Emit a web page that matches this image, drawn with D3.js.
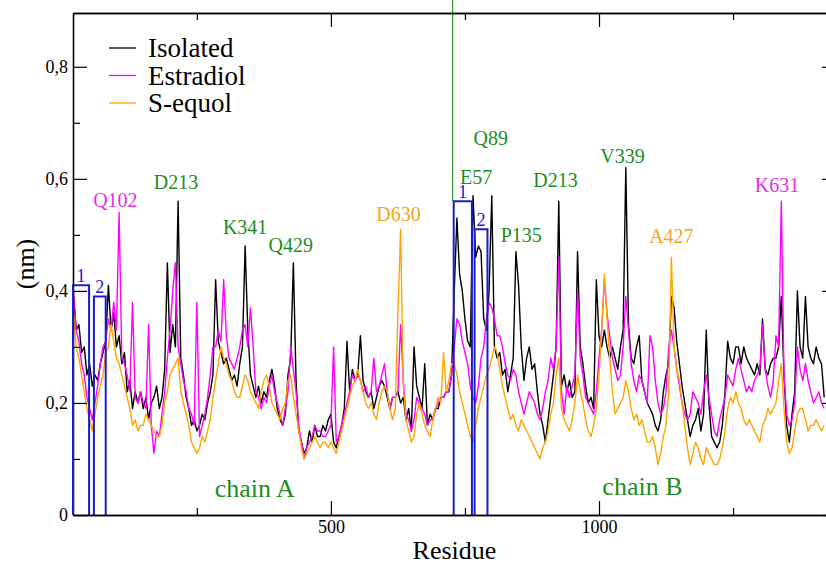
<!DOCTYPE html>
<html>
<head>
<meta charset="utf-8">
<script src="https://cdn.jsdelivr.net/npm/d3@7"></script>
<style>
  html, body { margin: 0; padding: 0; background: #fff; }
  svg { display: block; }
  svg text { font-family: "Liberation Serif", "Times New Roman", "DejaVu Serif", serif; }
</style>
</head>
<body>
<div id="chart"></div>
<script>
// Residue index grid: values are sampled every 5 residues along both chains
var residueStart = 20;
var residueStep = 5;

// Isolated (black) - chain A, residues 20..725
var isolatedA = [
  0.39, 0.33, 0.34, 0.29, 0.30, 0.25, 0.27, 0.23, 0.25, 0.24,
  0.27, 0.29, 0.31, 0.41, 0.33, 0.36, 0.30, 0.32, 0.27, 0.29,
  0.22, 0.24, 0.19, 0.22, 0.20, 0.22, 0.19, 0.21, 0.17, 0.20,
  0.21, 0.23, 0.19, 0.21, 0.26, 0.45, 0.29, 0.34, 0.30, 0.56,
  0.28, 0.25, 0.21, 0.19, 0.16, 0.17, 0.15, 0.16, 0.18, 0.17,
  0.20, 0.22, 0.25, 0.42, 0.31, 0.29, 0.27, 0.28, 0.26, 0.24,
  0.25, 0.23, 0.27, 0.30, 0.48, 0.33, 0.25, 0.23, 0.21, 0.23,
  0.20, 0.22, 0.21, 0.24, 0.26, 0.23, 0.19, 0.17, 0.16, 0.18,
  0.25, 0.28, 0.45, 0.24, 0.15, 0.13, 0.11, 0.12, 0.15, 0.13,
  0.16, 0.14, 0.14, 0.16, 0.15, 0.17, 0.18, 0.13, 0.12, 0.14,
  0.16, 0.19, 0.31, 0.22, 0.26, 0.24, 0.25, 0.32, 0.24, 0.22,
  0.21, 0.22, 0.19, 0.21, 0.23, 0.24, 0.23, 0.21, 0.19, 0.21,
  0.21, 0.22, 0.20, 0.21, 0.17, 0.19, 0.15, 0.30, 0.23, 0.21,
  0.19, 0.27, 0.16, 0.18, 0.17, 0.19, 0.19, 0.21, 0.21, 0.22,
  0.22, 0.25
];
// Isolated (black) - chain B, residues 730..1420
var isolatedB = [
  0.40, 0.53, 0.43, 0.40, 0.35, 0.31, 0.30, 0.57, 0.46, 0.48,
  0.47, 0.35, 0.33, 0.40, 0.57, 0.30, 0.28, 0.29, 0.25, 0.26,
  0.22, 0.25, 0.28, 0.47, 0.41, 0.30, 0.24, 0.28, 0.30, 0.26,
  0.27, 0.22, 0.18, 0.16, 0.13, 0.17, 0.21, 0.25, 0.30, 0.56,
  0.23, 0.25, 0.22, 0.24, 0.21, 0.22, 0.47, 0.30, 0.27, 0.23,
  0.20, 0.21, 0.19, 0.42, 0.32, 0.30, 0.33, 0.30, 0.28, 0.30,
  0.28, 0.26, 0.30, 0.33, 0.62, 0.34, 0.28, 0.27, 0.30, 0.32,
  0.24, 0.22, 0.20, 0.19, 0.18, 0.16, 0.15, 0.17, 0.22, 0.25,
  0.27, 0.39, 0.37, 0.31, 0.27, 0.23, 0.20, 0.17, 0.14, 0.16,
  0.17, 0.19, 0.15, 0.18, 0.33, 0.20, 0.14, 0.13, 0.12, 0.13,
  0.16, 0.22, 0.31, 0.28, 0.27, 0.30, 0.30, 0.27, 0.30, 0.28,
  0.27, 0.26, 0.25, 0.27, 0.25, 0.35, 0.26, 0.25, 0.27, 0.28,
  0.28, 0.30, 0.39, 0.25, 0.16, 0.13, 0.18, 0.22, 0.40, 0.30,
  0.28, 0.39, 0.30, 0.28, 0.27, 0.30, 0.28, 0.27, 0.21
];

// Estradiol (magenta)
var estradiolA = [
  0.40, 0.33, 0.31, 0.27, 0.25, 0.21, 0.19, 0.17, 0.20, 0.23,
  0.27, 0.30, 0.31, 0.35, 0.33, 0.38, 0.33, 0.54, 0.28, 0.27,
  0.25, 0.22, 0.38, 0.21, 0.20, 0.22, 0.20, 0.19, 0.34, 0.16,
  0.11, 0.15, 0.14, 0.18, 0.22, 0.28, 0.33, 0.40, 0.45, 0.30,
  0.27, 0.24, 0.22, 0.19, 0.18, 0.16, 0.38, 0.14, 0.16, 0.18,
  0.21, 0.25, 0.30, 0.30, 0.33, 0.31, 0.42, 0.32, 0.28, 0.27,
  0.26, 0.28, 0.30, 0.33, 0.34, 0.30, 0.37, 0.30, 0.22, 0.21,
  0.19, 0.21, 0.20, 0.23, 0.25, 0.22, 0.20, 0.18, 0.16, 0.19,
  0.22, 0.30, 0.26, 0.22, 0.16, 0.13, 0.10, 0.12, 0.13, 0.14,
  0.16, 0.15, 0.15, 0.14, 0.14, 0.15, 0.16, 0.30, 0.13, 0.14,
  0.16, 0.18, 0.20, 0.22, 0.25, 0.24, 0.25, 0.24, 0.22, 0.23,
  0.21, 0.22, 0.28, 0.22, 0.23, 0.25, 0.27, 0.22, 0.19, 0.21,
  0.21, 0.22, 0.34, 0.24, 0.18, 0.17, 0.15, 0.17, 0.21, 0.20,
  0.19, 0.18, 0.16, 0.17, 0.17, 0.19, 0.20, 0.21, 0.21, 0.22,
  0.22, 0.25
];
var estradiolB = [
  0.30, 0.35, 0.34, 0.31, 0.29, 0.27, 0.23, 0.21, 0.20, 0.23,
  0.28, 0.30, 0.35, 0.38, 0.37, 0.35, 0.32, 0.32, 0.30, 0.27,
  0.25, 0.24, 0.26, 0.25, 0.22, 0.20, 0.18, 0.20, 0.22, 0.21,
  0.20, 0.18, 0.17, 0.19, 0.22, 0.24, 0.28, 0.26, 0.30, 0.46,
  0.22, 0.18, 0.23, 0.21, 0.23, 0.25, 0.40, 0.28, 0.25, 0.21,
  0.20, 0.19, 0.18, 0.22, 0.28, 0.33, 0.42, 0.36, 0.32, 0.28,
  0.26, 0.24, 0.25, 0.30, 0.39, 0.33, 0.27, 0.24, 0.22, 0.25,
  0.24, 0.22, 0.20, 0.32, 0.30, 0.24, 0.20, 0.18, 0.19, 0.22,
  0.30, 0.33, 0.30, 0.26, 0.23, 0.20, 0.18, 0.17, 0.18, 0.22,
  0.21, 0.20, 0.18, 0.22, 0.25, 0.21, 0.18, 0.15, 0.14, 0.17,
  0.19, 0.21, 0.25, 0.24, 0.23, 0.26, 0.28, 0.26, 0.24, 0.22,
  0.23, 0.22, 0.24, 0.25, 0.26, 0.34, 0.26, 0.23, 0.21, 0.24,
  0.32, 0.30, 0.56, 0.25, 0.18, 0.16, 0.17, 0.20, 0.30, 0.26,
  0.24, 0.27, 0.24, 0.22, 0.20, 0.21, 0.22, 0.20, 0.19
];

// S-equol (orange)
var sequolA = [
  0.36, 0.30, 0.28, 0.25, 0.22, 0.19, 0.17, 0.15, 0.18, 0.21,
  0.23, 0.25, 0.29, 0.30, 0.34, 0.31, 0.28, 0.27, 0.25, 0.23,
  0.21, 0.19, 0.16, 0.17, 0.15, 0.16, 0.16, 0.18, 0.17, 0.16,
  0.15, 0.14, 0.14, 0.16, 0.20, 0.22, 0.25, 0.26, 0.27, 0.28,
  0.22, 0.20, 0.18, 0.16, 0.13, 0.12, 0.11, 0.12, 0.14, 0.13,
  0.15, 0.17, 0.21, 0.24, 0.27, 0.30, 0.28, 0.27, 0.25, 0.24,
  0.22, 0.21, 0.21, 0.23, 0.25, 0.24, 0.22, 0.21, 0.20, 0.19,
  0.22, 0.24, 0.25, 0.23, 0.20, 0.19, 0.18, 0.17, 0.19, 0.20,
  0.24, 0.25, 0.21, 0.18, 0.15, 0.12, 0.10, 0.11, 0.12, 0.13,
  0.14, 0.13, 0.12, 0.13, 0.13, 0.12, 0.13, 0.12, 0.11, 0.13,
  0.15, 0.17, 0.19, 0.21, 0.23, 0.24, 0.26, 0.24, 0.22, 0.20,
  0.19, 0.20, 0.18, 0.17, 0.20, 0.22, 0.23, 0.22, 0.19, 0.17,
  0.19, 0.36, 0.51, 0.23, 0.17, 0.15, 0.13, 0.14, 0.18, 0.20,
  0.18, 0.16, 0.15, 0.14, 0.17, 0.19, 0.21, 0.20, 0.29, 0.22,
  0.24, 0.27
];
var sequolB = [
  0.27, 0.25, 0.22, 0.20, 0.18, 0.16, 0.14, 0.13, 0.16, 0.19,
  0.21, 0.23, 0.25, 0.26, 0.28, 0.30, 0.29, 0.26, 0.23, 0.21,
  0.19, 0.17, 0.18, 0.16, 0.15, 0.17, 0.16, 0.15, 0.14, 0.13,
  0.12, 0.11, 0.10, 0.12, 0.13, 0.15, 0.18, 0.20, 0.25, 0.28,
  0.19, 0.17, 0.16, 0.15, 0.17, 0.20, 0.25, 0.22, 0.20, 0.17,
  0.15, 0.14, 0.16, 0.19, 0.25, 0.33, 0.43, 0.35, 0.28, 0.22,
  0.18, 0.19, 0.20, 0.21, 0.24, 0.22, 0.19, 0.17, 0.18, 0.16,
  0.17, 0.15, 0.13, 0.13, 0.14, 0.12, 0.09, 0.11, 0.14, 0.16,
  0.22, 0.46, 0.30, 0.26, 0.24, 0.20, 0.16, 0.12, 0.09, 0.11,
  0.13, 0.12, 0.10, 0.09, 0.12, 0.11, 0.10, 0.09, 0.09, 0.10,
  0.12, 0.15, 0.19, 0.21, 0.20, 0.22, 0.20, 0.19, 0.17, 0.16,
  0.17, 0.16, 0.15, 0.14, 0.13, 0.16, 0.17, 0.19, 0.18, 0.19,
  0.20, 0.24, 0.27, 0.19, 0.13, 0.11, 0.12, 0.15, 0.18, 0.19,
  0.19, 0.17, 0.15, 0.16, 0.16, 0.17, 0.16, 0.15, 0.16
];

var seriesNames = ['Isolated', 'Estradiol', 'S-equol'];

var xDomain = [19, 1442];
var yDomain = [0, 0.896];
var xMajorTicks = [500, 1000];
var xMinorTicks = [250, 750, 1250];
var yMajorTicks = [0, 0.2, 0.4, 0.6, 0.8];
var yMinorTicks = [0.1, 0.3, 0.5, 0.7];

// Highlighted regions (boxes 1 and 2 in each chain)
var boxStarts = [19, 58, 729, 768];
var boxEnds = [49, 80, 763, 792];
var boxTops = [0.41, 0.39, 0.56, 0.51];
var boxLabels = ['1', '2', '1', '2'];

var chainBoundary = 727;

// Peak annotations: label, anchor residue, anchor value, series it refers to
var peakLabels = ['Q102', 'D213', 'K341', 'Q429', 'D630', 'E57', 'Q89', 'D213', 'P135', 'V339', 'A427', 'K631'];
var peakResidues = [98, 211, 340, 425, 626, 771, 798, 919, 855, 1044, 1135, 1332];
var peakValues = [0.55, 0.582, 0.502, 0.47, 0.525, 0.591, 0.661, 0.586, 0.4875, 0.6286, 0.486, 0.577];
var peakSeries = ['Estradiol', 'Isolated', 'Isolated', 'Isolated', 'S-equol', 'Isolated', 'Isolated', 'Isolated', 'Isolated', 'Isolated', 'S-equol', 'Estradiol'];

var chainLabels = ['chain A', 'chain B'];
var chainLabelResidues = [358, 1081];
var chainLabelValues = [0.032, 0.036];

(function() {
    'use strict';

    var width = 826, height = 564;
    var margin = { left: 73, top: 13, right: 836, bottom: 515 };
    var fontFamily = '"Liberation Serif", "Times New Roman", "DejaVu Serif", serif';

    var lineColors = { 'Isolated': '#000000', 'Estradiol': '#ff00ff', 'S-equol': '#ffa500' };
    var labelColors = { 'Isolated': '#1e8c1e', 'Estradiol': '#e62ee6', 'S-equol': '#f5a31e' };
    var boxColor = '#1c1cc8';

    var x = d3.scaleLinear().domain(xDomain).range([margin.left, margin.right]);
    var y = d3.scaleLinear().domain(yDomain).range([margin.bottom, margin.top]);

    function toPoints(a, b) {
        return a.concat(b).map(function(v, i) {
            return [residueStart + i * residueStep, v];
        });
    }

    var series = [
        { name: 'Isolated', points: toPoints(isolatedA, isolatedB) },
        { name: 'Estradiol', points: toPoints(estradiolA, estradiolB) },
        { name: 'S-equol', points: toPoints(sequolA, sequolB) }
    ];

    var svg = d3.select('#chart').append('svg')
        .attr('width', width)
        .attr('height', height)
        .attr('font-family', fontFamily);

    svg.append('clipPath').attr('id', 'plot-clip')
        .append('rect')
        .attr('x', margin.left).attr('y', margin.top)
        .attr('width', margin.right - margin.left)
        .attr('height', margin.bottom - margin.top);

    // Data lines
    var line = d3.line()
        .x(function(d) { return x(d[0]); })
        .y(function(d) { return y(d[1]); });

    svg.append('g').attr('clip-path', 'url(#plot-clip)')
        .selectAll('path')
        .data(series)
        .join('path')
        .attr('fill', 'none')
        .attr('stroke', function(d) { return lineColors[d.name]; })
        .attr('stroke-width', 1.4)
        .attr('stroke-linejoin', 'round')
        .attr('d', function(d) { return line(d.points); });

    // Chain separator
    svg.append('line')
        .attr('x1', x(chainBoundary)).attr('x2', x(chainBoundary))
        .attr('y1', 0).attr('y2', y(boxTops[2]))
        .attr('stroke', '#2e9a2e')
        .attr('stroke-width', 1.2);

    // Boxes
    var boxes = boxStarts.map(function(s, i) {
        return { x0: s, x1: boxEnds[i], top: boxTops[i], label: boxLabels[i] };
    });
    svg.append('g').selectAll('path')
        .data(boxes)
        .join('path')
        .attr('fill', 'none')
        .attr('stroke', boxColor)
        .attr('stroke-width', 2)
        .attr('d', function(d) {
            return 'M' + x(d.x0) + ',' + y(0) + 'V' + y(d.top) + 'H' + x(d.x1) + 'V' + y(0);
        });
    svg.append('g').selectAll('text')
        .data(boxes)
        .join('text')
        .attr('x', function(d) { return (x(d.x0) + x(d.x1)) / 2; })
        .attr('y', function(d) { return y(d.top) - 3; })
        .attr('text-anchor', 'middle')
        .attr('fill', boxColor)
        .style('font-size', '18px')
        .text(function(d) { return d.label; });

    // Frame and ticks (all four sides, ticks inward)
    function styleAxis(g) {
        g.attr('font-family', fontFamily);
        g.select('.domain').attr('stroke', '#000').attr('stroke-width', 1.3);
        g.selectAll('.tick line').attr('stroke', '#000').attr('stroke-width', 1.2);
        g.selectAll('.tick text').attr('fill', '#000').style('font-size', '18px');
    }

    svg.append('g').attr('transform', 'translate(0,' + margin.bottom + ')')
        .call(d3.axisBottom(x).tickValues(xMinorTicks).tickSizeInner(-7).tickSizeOuter(0).tickFormat(''))
        .call(styleAxis);
    svg.append('g').attr('transform', 'translate(0,' + margin.bottom + ')')
        .call(d3.axisBottom(x).tickValues(xMajorTicks).tickSizeInner(-14).tickSizeOuter(0).tickPadding(5).tickFormat(d3.format('d')))
        .call(styleAxis);

    svg.append('g').attr('transform', 'translate(0,' + margin.top + ')')
        .call(d3.axisTop(x).tickValues(xMinorTicks).tickSizeInner(-7).tickSizeOuter(0).tickFormat(''))
        .call(styleAxis);
    svg.append('g').attr('transform', 'translate(0,' + margin.top + ')')
        .call(d3.axisTop(x).tickValues(xMajorTicks).tickSizeInner(-14).tickSizeOuter(0).tickFormat(''))
        .call(styleAxis);

    var commaFormat = function(d) { return d === 0 ? '0' : d3.format('.1f')(d).replace('.', ','); };

    svg.append('g').attr('transform', 'translate(' + margin.left + ',0)')
        .call(d3.axisLeft(y).tickValues(yMinorTicks).tickSizeInner(-7).tickSizeOuter(0).tickFormat(''))
        .call(styleAxis);
    svg.append('g').attr('transform', 'translate(' + margin.left + ',0)')
        .call(d3.axisLeft(y).tickValues(yMajorTicks).tickSizeInner(-14).tickSizeOuter(0).tickPadding(5).tickFormat(commaFormat))
        .call(styleAxis);

    svg.append('g').attr('transform', 'translate(' + margin.right + ',0)')
        .call(d3.axisRight(y).tickValues(yMinorTicks).tickSizeInner(-7).tickSizeOuter(0).tickFormat(''))
        .call(styleAxis);
    svg.append('g').attr('transform', 'translate(' + margin.right + ',0)')
        .call(d3.axisRight(y).tickValues(yMajorTicks).tickSizeInner(-14).tickSizeOuter(0).tickFormat(''))
        .call(styleAxis);

    // Left box edge sits on the axis
    svg.append('line')
        .attr('x1', x(boxStarts[0])).attr('x2', x(boxStarts[0]))
        .attr('y1', y(0)).attr('y2', y(boxTops[0]))
        .attr('stroke', boxColor).attr('stroke-width', 2);

    // Axis titles
    svg.append('text')
        .attr('x', (margin.left + margin.right) / 2)
        .attr('y', 559)
        .attr('text-anchor', 'middle')
        .style('font-size', '26px')
        .text('Residue');

    svg.append('text')
        .attr('transform', 'translate(34,' + ((margin.top + margin.bottom) / 2) + ') rotate(-90)')
        .attr('text-anchor', 'middle')
        .style('font-size', '26px')
        .text('(nm)');

    // Peak annotations
    svg.append('g').selectAll('text')
        .data(peakLabels)
        .join('text')
        .attr('x', function(d, i) { return x(peakResidues[i]); })
        .attr('y', function(d, i) { return y(peakValues[i]); })
        .attr('text-anchor', 'middle')
        .attr('fill', function(d, i) { return labelColors[peakSeries[i]]; })
        .style('font-size', '20px')
        .text(function(d) { return d; });

    svg.append('g').selectAll('text')
        .data(chainLabels)
        .join('text')
        .attr('x', function(d, i) { return x(chainLabelResidues[i]); })
        .attr('y', function(d, i) { return y(chainLabelValues[i]); })
        .attr('text-anchor', 'middle')
        .attr('fill', labelColors['Isolated'])
        .style('font-size', '26px')
        .text(function(d) { return d; });

    // Legend
    var legend = svg.append('g').attr('transform', 'translate(109,48)');
    var item = legend.selectAll('g')
        .data(seriesNames)
        .join('g')
        .attr('transform', function(d, i) { return 'translate(0,' + (i * 27.5) + ')'; });
    item.append('line')
        .attr('x1', 0).attr('x2', 27)
        .attr('stroke', function(d) { return lineColors[d]; })
        .attr('stroke-width', 1.3);
    item.append('text')
        .attr('x', 39)
        .attr('y', 9)
        .style('font-size', '27px')
        .text(function(d) { return d; });
})();
</script>
</body>
</html>
